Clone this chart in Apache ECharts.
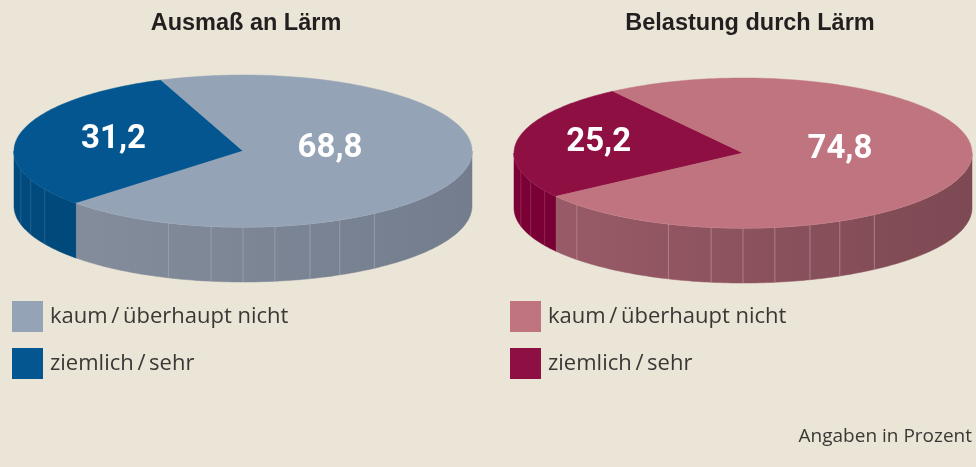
<!DOCTYPE html>
<html>
<head>
<meta charset="utf-8">
<script src="https://cdn.jsdelivr.net/npm/echarts@6/dist/echarts.min.js"></script>
<style>
html,body{margin:0;padding:0;background:#eae5d6;}
#chart{width:976px;height:467px;}
</style>
</head>
<body>
<div id="chart"></div>
<script>
// ---- data ----
const pieTitles = ['Ausmaß an Lärm', 'Belastung durch Lärm'];
const categories = ['ziemlich/sehr', 'kaum/überhaupt nicht'];
const ausmassValues = [31.2, 68.8];
const belastungValues = [25.2, 74.8];
const footnote = 'Angaben in Prozent';

// ---- styles / layout ----
const pies = [
  { values: ausmassValues, cx: 243, cy: 151, rx: 229, ry: 76, depth: 55, start: 111,
    top: ['#03568f', '#95a3b6'],
    side: [['#004a7d', '#00426f'], ['#878f9e', '#737d8d']],
    rim: ['#3d77a6', '#b3bccb'], facet: ['#2d6792', '#9aa2b0'], labelRadius: [0.58, 0.39] },
  { values: belastungValues, cx: 743, cy: 153, rx: 229, ry: 75, depth: 55, start: 124.6,
    top: ['#8e1043', '#c07480'],
    side: [['#7a0035', '#70002f'], ['#9b5c69', '#7d4953']],
    rim: ['#a8456f', '#d49aa3'], facet: ['#94315a', '#b88a92'], labelRadius: [0.64, 0.43] }
];
const legendColors = [[pies[0].top[1], pies[0].top[0]], [pies[1].top[1], pies[1].top[0]]];
const facetAngles = [194, 202, 210, 223.5, 251, 262, 270, 278, 287, 295, 305];

function ellPt(c, a, dy) {
  const r = a * Math.PI / 180;
  return [c.cx + c.rx * Math.cos(r), c.cy - c.ry * Math.sin(r) + (dy || 0)];
}
function arcPts(c, a0, a1, dy) {
  const pts = [];
  const n = Math.max(2, Math.ceil(Math.abs(a1 - a0)));
  for (let k = 0; k <= n; k++) pts.push(ellPt(c, a0 + (a1 - a0) * k / n, dy));
  return pts;
}
function fmt(v) { return v.toFixed(1).replace('.', ','); }

function makeRender(c) {
  return function (params, api) {
    const i = params.dataIndex;
    const vals = c.values;
    const total = vals.reduce((s, v) => s + v, 0);
    let before = 0;
    for (let k = 0; k < i; k++) before += vals[k];
    const v = api.value(0);
    const a0 = c.start + before / total * 360;
    const a1 = a0 + v / total * 360;
    const children = [];
    const grad = { type: 'linear', x: c.cx - c.rx, y: 0, x2: c.cx + c.rx, y2: 0, global: true,
      colorStops: [{ offset: 0, color: c.side[i][0] }, { offset: 1, color: c.side[i][1] }] };
    [[180, 360], [540, 720]].forEach(function (R) {
      const lo = Math.max(a0, R[0]), hi = Math.min(a1, R[1]);
      if (hi <= lo) return;
      children.push({ type: 'polygon', shape: { points: arcPts(c, lo, hi, 0).concat(arcPts(c, hi, lo, c.depth)) },
        style: { fill: grad, stroke: grad, lineWidth: 0.5 } });
      facetAngles.forEach(function (f) {
        [f, f + 360].forEach(function (fa) {
          if (fa > lo + 0.5 && fa < hi - 0.5) {
            const p1 = ellPt(c, fa, 0), p2 = ellPt(c, fa, c.depth);
            children.push({ type: 'line', shape: { x1: p1[0], y1: p1[1], x2: p2[0], y2: p2[1] },
              style: { stroke: c.facet[i], lineWidth: 1, opacity: 0.8 } });
          }
        });
      });
      children.push({ type: 'polyline', shape: { points: arcPts(c, lo, hi, 0) },
        style: { stroke: c.rim[i], lineWidth: 1, fill: null } });
    });
    children.push({ type: 'polygon', shape: { points: [[c.cx, c.cy]].concat(arcPts(c, a0, a1, 0)) },
      style: { fill: c.top[i], stroke: c.top[i], lineWidth: 0.5 } });
    const mid = (a0 + a1) / 2, mr = mid * Math.PI / 180, f = c.labelRadius[i];
    children.push({ type: 'text', z2: 10,
      style: { text: fmt(v), x: c.cx + Math.cos(mr) * c.rx * f,
        y: c.cy - Math.sin(mr) * c.ry * f * 0.5 - 6,
        fill: '#ffffff', font: 'bold 33px Roboto, "Liberation Sans", sans-serif',
        align: 'center', verticalAlign: 'middle' } });
    return { type: 'group', children: children };
  };
}

const textFont = '"Open Sans", "Liberation Sans", Arial, sans-serif';
const graphics = [];
[12, 510].forEach(function (lx, p) {
  [1, 0].forEach(function (ci, row) {
    const y = 301 + row * 47;
    graphics.push({ type: 'rect', left: lx, top: y, shape: { width: 31, height: 31 },
      style: { fill: legendColors[p][row] } });
    graphics.push({ type: 'text', left: lx + 38, top: y + 5,
      style: { text: categories[ci].replace('/', '\u2009/\u2009'), fill: '#3a3836', font: '22px ' + textFont } });
  });
});
graphics.push({ type: 'text', right: 4, top: 427,
  style: { text: footnote, fill: '#3a3836', font: '19px ' + textFont } });

const chart = echarts.init(document.getElementById('chart'), null, { renderer: 'canvas' });
chart.setOption({
  backgroundColor: '#eae5d6',
  animation: false,
  title: [
    { text: pieTitles[0], left: 241, top: 7, textAlign: 'center',
      textStyle: { fontFamily: '"Liberation Sans", Arial, sans-serif', fontWeight: 'bold', fontSize: 23.5, color: '#231f20' } },
    { text: pieTitles[1], left: 745, top: 7, textAlign: 'center',
      textStyle: { fontFamily: '"Liberation Sans", Arial, sans-serif', fontWeight: 'bold', fontSize: 23.5, color: '#231f20' } }
  ],
  series: pies.map(function (c, p) {
    return { type: 'custom', name: pieTitles[p], coordinateSystem: 'none',
      renderItem: makeRender(c), data: c.values.map(function (v, k) { return { name: categories[k], value: [v] }; }) };
  }),
  graphic: graphics
});
</script>
</body>
</html>
